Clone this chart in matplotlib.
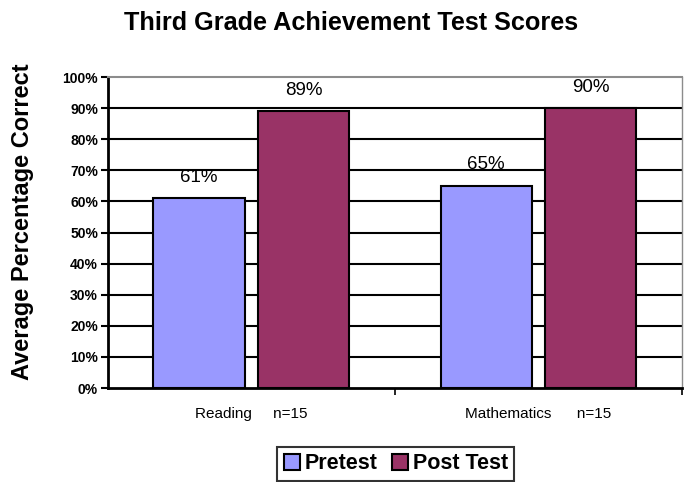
import matplotlib
matplotlib.use("Agg")
import matplotlib.pyplot as plt
import numpy as np
from matplotlib.patches import Patch

plt.rcParams['font.family'] = ['Liberation Sans', 'DejaVu Sans']

# Data
categories = ["Reading     n=15", "Mathematics      n=15"]
series_names = ["Pretest", "Post Test"]
pretest = [61, 65]
posttest = [89, 90]
yticks = list(range(0, 101, 10))

colors = ["#9999FF", "#993366"]

fig = plt.figure(figsize=(6.86, 4.82), dpi=100)
ax = fig.add_axes([0.157, 0.195, 0.837, 0.645])

x = np.arange(len(categories))
width = 0.317
offset = 0.182

bars1 = ax.bar(x - offset, pretest, width, color=colors[0], edgecolor='black', linewidth=1.5, zorder=3)
bars2 = ax.bar(x + offset, posttest, width, color=colors[1], edgecolor='black', linewidth=1.5, zorder=3)

for bars, vals in [(bars1, pretest), (bars2, posttest)]:
    for b, v in zip(bars, vals):
        ax.text(b.get_x() + b.get_width() / 2, v + 4, f"{v}%", ha='center', va='bottom',
                fontsize=13.5, zorder=4)

ax.set_xlim(-0.5, 1.5)
ax.set_ylim(0, 100)

# gridlines
for t in yticks[1:-1]:
    ax.axhline(t, color='black', linewidth=1.5, zorder=1)

ax.set_yticks(yticks)
ax.set_yticklabels([f"{t}%" for t in yticks], fontsize=10, fontweight='bold')
ax.tick_params(axis='y', length=5, width=1.5, pad=2)

ax.set_xticks([0.5, 1.5])
ax.set_xticklabels([])
ax.set_xticks(x, minor=True)
ax.set_xticklabels(categories, minor=True, fontsize=11)
ax.tick_params(axis='x', which='major', length=5, width=1.2, direction='out')
ax.tick_params(axis='x', which='minor', length=0, pad=14)

ax.spines['left'].set_linewidth(2)
ax.spines['bottom'].set_linewidth(2)
ax.spines['top'].set_color('#8c8c8c')
ax.spines['top'].set_linewidth(1.5)
ax.spines['right'].set_color('#8c8c8c')
ax.spines['right'].set_linewidth(1)

ax.set_ylabel("Average Percentage Correct", fontsize=17, fontweight='bold')
ax.yaxis.set_label_coords(-0.128, 0.535)
fig.text(0.512, 1 - 30 / 482, "Third Grade Achievement Test Scores", ha='center', va='baseline',
         fontsize=18.2, fontweight='bold')

handles = [Patch(facecolor=c, edgecolor='black', linewidth=1.5) for c in colors]
leg = fig.legend(handles, series_names, loc='upper center', bbox_to_anchor=(0.577, 1 - 447 / 482),
                 ncol=2, frameon=True, fancybox=False, edgecolor='black',
                 prop={'weight': 'bold', 'size': 15.5}, handlelength=0.75, handleheight=0.75,
                 handletextpad=0.2, columnspacing=0.7, borderpad=0.3, borderaxespad=0)
leg.get_frame().set_linewidth(1.5)

fig.savefig("out.png", dpi=100)
